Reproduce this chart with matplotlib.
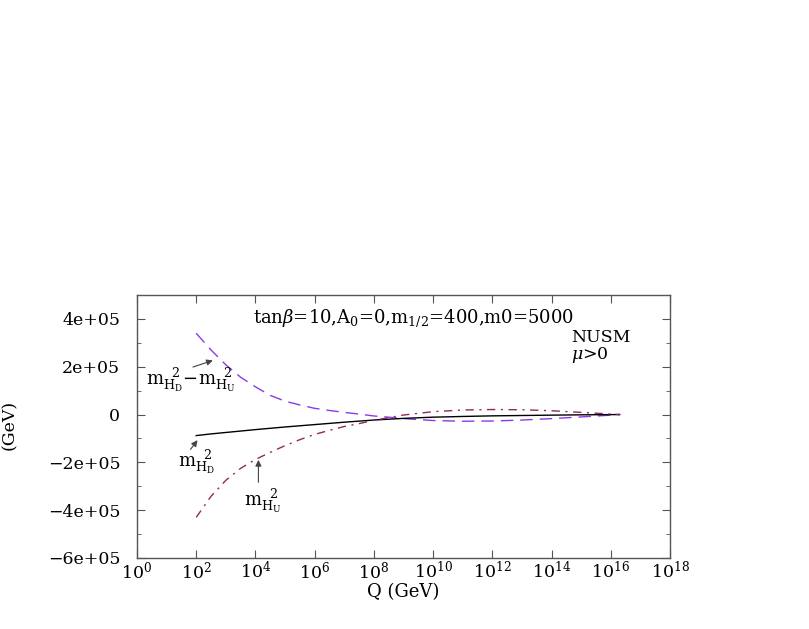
import numpy as np
import matplotlib
matplotlib.use("Agg")
import matplotlib.pyplot as plt

plt.rcParams["font.family"] = ["DejaVu Serif"]
plt.rcParams["mathtext.fontset"] = "dejavuserif"

# log10(Q / GeV)
logq = [2, 2.5, 3, 3.5, 4, 4.5, 5, 5.5, 6, 6.5, 7, 7.5, 8, 8.5, 9,
        10, 11, 12, 13, 14, 15, 16, 16.3]
# m_HD^2 - m_HU^2
diff = [3.4e5, 2.7e5, 2.08e5, 1.56e5, 1.16e5, 8.0e4, 5.6e4, 4.0e4, 2.6e4,
        1.7e4, 9e3, 2e3, -6e3, -1.1e4, -1.7e4,
        -2.5e4, -2.8e4, -2.7e4, -2.3e4, -1.7e4, -1.0e4, -2.5e3, 0]
# m_HD^2
mhd = [-8.8e4, -8.1e4, -7.5e4, -6.9e4, -6.3e4, -5.75e4, -5.2e4, -4.7e4, -4.2e4,
       -3.7e4, -3.2e4, -2.75e4, -2.3e4, -1.95e4, -1.6e4,
       -1.1e4, -8e3, -5.5e3, -4e3, -2.5e3, -1.2e3, -3e2, 0]
# m_HU^2
mhu = [-4.3e5, -3.42e5, -2.75e5, -2.25e5, -1.88e5, -1.58e5, -1.3e5, -1.05e5, -8.3e4,
       -6.6e4, -5.0e4, -3.8e4, -2.4e4, -1.3e4, -2e3,
       1.2e4, 1.9e4, 2.1e4, 2.0e4, 1.6e4, 9e3, 2e3, 0]

q = 10.0 ** np.array(logq)

fig = plt.figure(figsize=(8.09, 6.29), dpi=100)
ax = fig.add_axes([137 / 809, 1 - 558 / 629, 533 / 809, 263 / 629])

ax.plot(q, diff, color="#8a3be6", lw=1.0, dashes=(9, 5))
ax.plot(q, mhd, color="black", lw=1.0)
ax.plot(q, mhu, color="#8e2a62", lw=1.0, dashes=(6, 4, 1.5, 4))

ax.set_xscale("log")
ax.set_xlim(1, 1e18)
ax.set_ylim(-6e5, 5e5)
ax.set_xticks([10.0 ** k for k in range(0, 19, 2)])
ax.set_xticklabels([r"$10^{%d}$" % k for k in range(0, 19, 2)])
ax.xaxis.set_minor_locator(matplotlib.ticker.NullLocator())
ax.set_yticks([-6e5, -4e5, -2e5, 0, 2e5, 4e5])
ax.set_yticklabels(["\u22126e+05", "\u22124e+05", "\u22122e+05", "0", "2e+05", "4e+05"])
ax.set_yticks(np.arange(-6e5, 5.01e5, 1e5), minor=True)
ax.tick_params(which="both", direction="in", top=True, right=True,
               labelsize=12.5, color="#555555")
ax.tick_params(which="major", length=6)
ax.tick_params(axis="y", which="major", pad=12)
ax.tick_params(axis="x", which="major", pad=2)
ax.tick_params(which="minor", length=3)
for s in ax.spines.values():
    s.set_color("#555555")
    s.set_linewidth(1.0)

ax.set_xlabel("Q (GeV)", fontsize=13, labelpad=0)
fig.text(9 / 809, 1 - 425 / 629, "(GeV)", rotation=90, fontsize=12.5,
         ha="center", va="center")

ax.text(0.217, 0.895, r"tan$\beta$=10,A$_0$=0,m$_{1/2}$=400,m0=5000",
        transform=ax.transAxes, fontsize=13)
ax.text(0.815, 0.82, "NUSM", transform=ax.transAxes, fontsize=12.5)
ax.text(0.815, 0.755, r"$\mu$>0", transform=ax.transAxes, fontsize=12.5)

arrow = dict(arrowstyle="-|>", color="#444444", lw=0.8, mutation_scale=9)
ax.annotate("", xy=(10 ** 2.65, 2.3e5), xytext=(10 ** 1.8, 1.95e5),
            arrowprops=arrow)
ax.text(10 ** 0.3, 1.25e5,
        r"$\mathrm{m}_{\mathrm{H}_\mathrm{D}}^{\ \ 2}\!-\!\mathrm{m}_{\mathrm{H}_\mathrm{U}}^{\ \ 2}$",
        fontsize=13)
ax.annotate("", xy=(10 ** 2.1, -9.8e4), xytext=(10 ** 1.75, -1.55e5),
            arrowprops=arrow)
ax.text(10 ** 1.4, -2.2e5, r"$\mathrm{m}_{\mathrm{H}_\mathrm{D}}^{\ \ 2}$", fontsize=13)
ax.annotate("", xy=(10 ** 4.1, -1.78e5), xytext=(10 ** 4.1, -2.95e5),
            arrowprops=arrow)
ax.text(10 ** 3.6, -3.8e5, r"$\mathrm{m}_{\mathrm{H}_\mathrm{U}}^{\ \ 2}$", fontsize=13)

fig.savefig("out.png", dpi=100)
